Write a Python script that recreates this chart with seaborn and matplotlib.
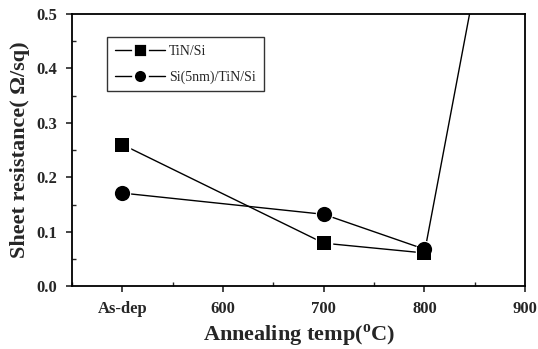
import numpy as np
import pandas as pd
import seaborn as sns
import matplotlib.pyplot as plt
from matplotlib.ticker import MultipleLocator
from matplotlib.lines import Line2D

# datos
temps = [500, 700, 800, 900]          # 500 = As-dep
tin_si = [0.26, 0.079, 0.061, 1.04]
si_tin_si = [0.171, 0.132, 0.068]
xtick_pos = [500, 600, 700, 800, 900]
xtick_labels = ["As-dep", "600", "700", "800", "900"]

sns.set_style("ticks")
plt.rcParams['font.family'] = ['Liberation Serif', 'DejaVu Serif']
plt.rcParams['mathtext.fontset'] = 'custom'
plt.rcParams['mathtext.rm'] = 'Liberation Serif:bold'
plt.rcParams['mathtext.bf'] = 'Liberation Serif:bold'

df1 = pd.DataFrame({"x": temps, "y": tin_si})
df2 = pd.DataFrame({"x": temps[:3], "y": si_tin_si})

fig = plt.figure(figsize=(5.38, 3.49), dpi=100)
ax = fig.add_axes([0.134, 0.18, 0.842, 0.78])

# lineas con hueco alrededor de los marcadores (marcador blanco)
sns.lineplot(data=df1, x="x", y="y", ax=ax, color="black", lw=1.0,
             marker="s", markersize=10, markeredgecolor="white",
             markerfacecolor="white", markeredgewidth=2.5, legend=False)
sns.lineplot(data=df2, x="x", y="y", ax=ax, color="black", lw=1.0,
             marker="o", markersize=10, markeredgecolor="white",
             markerfacecolor="white", markeredgewidth=2.5, legend=False)
# marcadores negros encima
sns.scatterplot(data=df1, x="x", y="y", ax=ax, color="black", marker="s",
                s=110, linewidth=0, zorder=5)
sns.scatterplot(data=df2, x="x", y="y", ax=ax, color="black", marker="o",
                s=120, linewidth=0, zorder=5)

ax.set_xlim(450, 900)
ax.set_ylim(0, 0.5)
ax.set_xticks(xtick_pos)
ax.set_xticklabels(xtick_labels)
ax.xaxis.set_minor_locator(MultipleLocator(50))
ax.yaxis.set_major_locator(MultipleLocator(0.1))
ax.yaxis.set_minor_locator(MultipleLocator(0.05))
ax.yaxis.set_major_formatter(plt.FormatStrFormatter('%.1f'))
ax.tick_params(which="major", direction="out", length=4, width=1.2,
               labelsize=12, pad=7)
ax.tick_params(which="minor", direction="in", length=3, width=1)
for lab in ax.get_xticklabels() + ax.get_yticklabels():
    lab.set_fontweight("bold")

for s in ax.spines.values():
    s.set_linewidth(1.3)
    s.set_color("black")

ax.set_xlabel(r"Annealing temp($^{\mathrm{o}}$C)", fontsize=16,
              fontweight="bold", labelpad=4)
ax.set_ylabel("Sheet resistance( Ω/sq)", fontsize=16, fontweight="bold",
              labelpad=4)

# leyenda con linea - marcador - linea
h1 = Line2D([], [], color="black", lw=1.0, marker="s", markersize=10,
            markeredgecolor="white", markerfacecolor="black", markeredgewidth=2)
h2 = Line2D([], [], color="black", lw=1.0, marker="o", markersize=10,
            markeredgecolor="white", markerfacecolor="black", markeredgewidth=2)
leg = ax.legend([h1, h2], ["TiN/Si", "Si(5nm)/TiN/Si"], loc="upper left",
                bbox_to_anchor=(0.078, 0.915), fontsize=10,
                frameon=True, fancybox=False, edgecolor="black",
                handlelength=3.6, borderpad=0.55, labelspacing=0.9,
                handletextpad=0.3, borderaxespad=0)
leg.get_frame().set_linewidth(1.0)

plt.savefig("out.png", dpi=100)
plt.close()
